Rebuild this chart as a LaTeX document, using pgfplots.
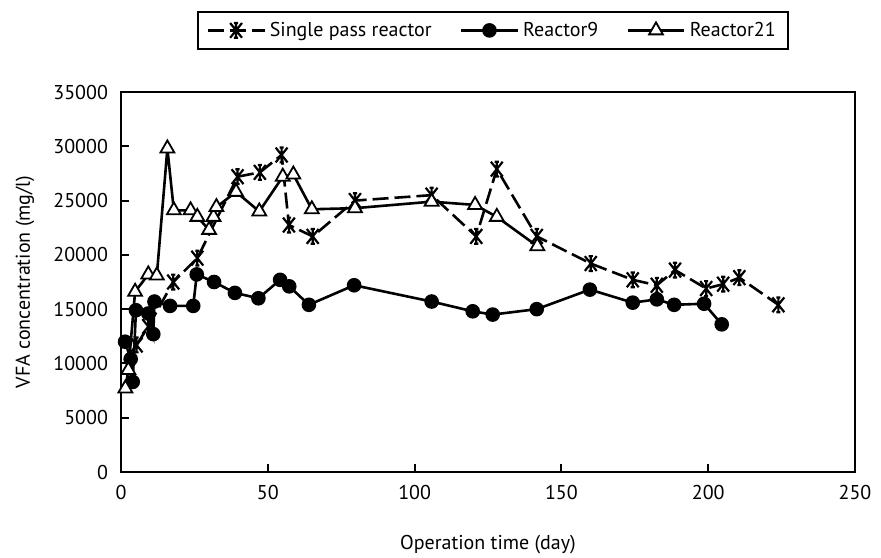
\documentclass[border=0pt]{standalone}
\usepackage{fontspec}
\setmainfont{PT Sans}
\usepackage{pgfplots}
\pgfplotsset{compat=1.18}
\pgfdeclareplotmark{xstar}{%
  \pgfpathmoveto{\pgfqpoint{-0.8\pgfplotmarksize}{-\pgfplotmarksize}}%
  \pgfpathlineto{\pgfqpoint{0.8\pgfplotmarksize}{\pgfplotmarksize}}%
  \pgfpathmoveto{\pgfqpoint{-0.8\pgfplotmarksize}{\pgfplotmarksize}}%
  \pgfpathlineto{\pgfqpoint{0.8\pgfplotmarksize}{-\pgfplotmarksize}}%
  \pgfpathmoveto{\pgfqpoint{0pt}{-\pgfplotmarksize}}%
  \pgfpathlineto{\pgfqpoint{0pt}{\pgfplotmarksize}}%
  \pgfpathmoveto{\pgfqpoint{-0.28\pgfplotmarksize}{\pgfplotmarksize}}%
  \pgfpathlineto{\pgfqpoint{0.28\pgfplotmarksize}{\pgfplotmarksize}}%
  \pgfpathmoveto{\pgfqpoint{-0.28\pgfplotmarksize}{-\pgfplotmarksize}}%
  \pgfpathlineto{\pgfqpoint{0.28\pgfplotmarksize}{-\pgfplotmarksize}}%
  \pgfusepathqstroke
}
\pgfplotstableread{
x y
5.3 11700
9.3 13400
17.8 17500
26 19700
39.7 27200
47.3 27600
54.7 29200
57.2 22750
65.3 21700
79.7 25000
105.8 25500
121 21700
128 27900
141.6 21700
160 19200
174.3 17700
182.5 17200
188.7 18600
199.3 16900
205.1 17300
210.6 17900
223.9 15400
}\single
\pgfplotstableread{
x y
1.4 12000
3.3 10400
4 8300
5.1 14900
9.3 14600
11 12700
11.4 15700
16.7 15300
24.6 15300
25.8 18200
31.7 17500
38.8 16500
46.8 16000
54.2 17700
57.3 17100
64 15400
79.4 17200
105.8 15700
119.8 14800
126.6 14500
141.6 15000
159.7 16800
174.3 15600
182.5 15900
188.4 15400
198.6 15500
204.6 13600
}\reactornine
\pgfplotstableread{
x y
1.5 7700
2.5 9400
4.8 16600
9.3 18200
12.2 18100
15.8 29800
18 24100
23.7 24100
26 23500
30 22300
31.5 23500
32.5 24400
39.2 25800
47.1 24000
55.1 27200
58.7 27400
65 24200
79.7 24300
105.8 24900
120.6 24600
128 23500
141.8 20800
}\reactortwentyone
\begin{document}
\begin{tikzpicture}
\begin{axis}[
  scale only axis, width=367pt, height=190pt,
  xmin=0, xmax=250, ymin=0, ymax=35000,
  xtick={0,50,...,250}, ytick={0,5000,...,35000},
  tick align=inside, xtick pos=bottom, ytick pos=left,
  major tick length=4pt,
  axis line style={line width=1pt},
  every tick/.style={line width=1pt, black},
  scaled ticks=false,
  /pgf/number format/1000 sep={},
  /pgf/number format/assume math mode=true,
  tick label style={font=\fontsize{10}{12}\selectfont},
  xticklabel style={yshift=-3pt},
  yticklabel style={xshift=-3pt},
  label style={font=\fontsize{10.5}{12}\selectfont},
  xlabel={Operation time (day)},
  ylabel={VFA concentration (mg/l)},
  every axis x label/.style={at={(axis description cs:0.5,-0.192)}, anchor=center},
  every axis y label/.style={at={(axis description cs:-0.1308,0.5)}, rotate=90, anchor=center},
  legend columns=3,
  legend style={at={(axis description cs:0.5068,1.1105)}, anchor=south,
    draw=black, line width=1pt, font=\fontsize{10}{12}\selectfont,
    inner xsep=4pt, inner ysep=3pt,
    /tikz/every even column/.append style={column sep=12pt}},
  legend image code/.code={\draw[mark repeat=2,mark phase=2] plot coordinates {(0cm,0cm) (0.5cm,0cm) (1.0cm,0cm)};},
]
\addplot[black, line width=1.3pt, dash pattern=on 8pt off 3pt, mark=xstar, mark size=3.7pt,
  mark options={solid, line width=1.1pt}] table {\single};
\addlegendentry{Single pass reactor}
\addplot[black, line width=1.3pt, mark=*, mark size=3pt, mark options={solid, fill=black}] table {\reactornine};
\addlegendentry{Reactor9}
\addplot[black, line width=1.3pt, mark=triangle*, mark size=4pt,
  mark options={solid, fill=white, line width=0.9pt}] table {\reactortwentyone};
\addlegendentry{Reactor21}
\end{axis}
\pgfresetboundingbox
\useasboundingbox (-60.5pt,-42.5pt) rectangle (380pt,236pt);
\end{tikzpicture}
\end{document}
